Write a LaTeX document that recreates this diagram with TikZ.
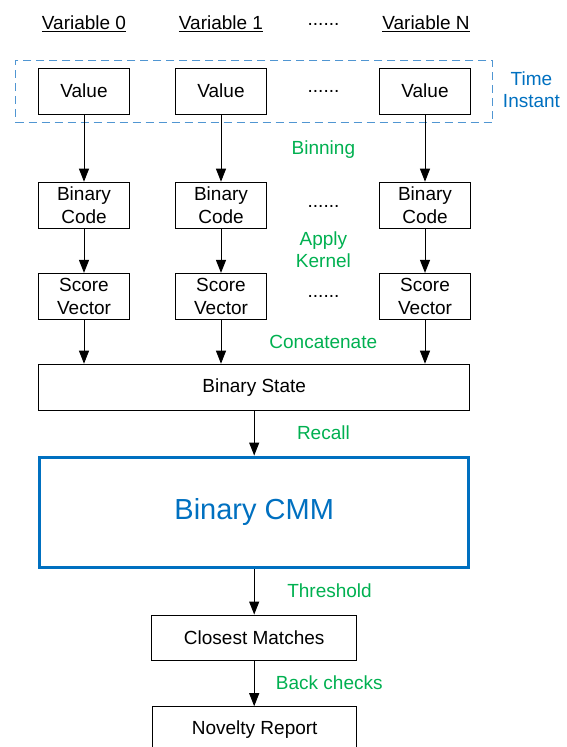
\documentclass[tikz,border=0pt]{standalone}
\usepackage{fontspec}
\setmainfont{Liberation Sans}
\usetikzlibrary{arrows.meta}
\definecolor{lblue}{RGB}{0,112,192}
\definecolor{dblue}{RGB}{80,150,210}
\definecolor{lgreen}{RGB}{0,176,80}
\begin{document}
\begin{tikzpicture}[x=1pt,y=-1pt,
  every node/.style={font=\fontsize{19}{22.5}\selectfont, inner sep=0pt, outer sep=0pt},
  box/.style={draw=black, line width=1pt, minimum width=91pt, minimum height=46pt, align=center, fill=white, outer sep=0.5pt},
  cmmbox/.style={draw=lblue, line width=3pt, minimum width=429pt, minimum height=110.5pt, text=lblue, font=\fontsize{29}{34}\selectfont, outer sep=1.5pt},
  dashbox/.style={draw=dblue, line width=1pt, dash pattern=on 8pt off 5pt, minimum width=477pt, minimum height=62.7pt},
  lab/.style={text=lgreen},
  tlab/.style={text=lblue, align=center},
  arr/.style={draw=black, line width=1pt, -{Triangle[length=13pt,width=10pt]}}
]
\useasboundingbox (0,0) rectangle (566,747);

% dashed time-instant frame
\node[dashbox] (ti) at (254.2,91.35) {};
\node[tlab] (tlabel) at (531.5,89.7) {Time\\Instant};

% headers
\node[anchor=base] (h0) at (84,29.3) {\underline{Variable 0}};
\node[anchor=base] (h1) at (221,29.3) {\underline{Variable 1}};
\node[anchor=base] (hd) at (323.5,25.5) {......};
\node[anchor=base] (hn) at (426,29.3) {\underline{Variable N}};

% value row
\node[box] (v0) at (84,91.2) {Value};
\node[box] (v1) at (221,91.2) {Value};
\node[anchor=base] (vd) at (323.5,92.5) {......};
\node[box] (vn) at (425,91.2) {Value};

% binary code row
\node[box] (c0) at (84,205.2) {Binary\\Code};
\node[box] (c1) at (221,205.2) {Binary\\Code};
\node[anchor=base] (cd) at (323.5,207) {......};
\node[box] (cn) at (425,205.2) {Binary\\Code};

% score vector row
\node[box] (s0) at (84,296.4) {Score\\Vector};
\node[box] (s1) at (221,296.4) {Score\\Vector};
\node[anchor=base] (sd) at (323.5,297) {......};
\node[box] (sn) at (425,296.4) {Score\\Vector};

% binary state
\node[box, minimum width=431.5pt] (bs) at (254.2,387.2) {Binary State};

% CMM
\node[cmmbox] (cmm) at (254.2,512.3) {Binary CMM};

% closest matches, novelty report
\node[box, minimum width=204.5pt, minimum height=45.7pt] (cm) at (254.2,637.9) {Closest Matches};
\node[box, minimum width=204pt] (nr) at (254.7,729.7) {Novelty Report};

% green labels
\node[lab, anchor=base] (lbin) at (323.4,154.3) {Binning};
\node[lab, align=center] (lker) at (323.4,249.7) {Apply\\Kernel};
\node[lab, anchor=base] (lcat) at (323.3,348.3) {Concatenate};
\node[lab, anchor=base] (lrec) at (323.4,439.3) {Recall};
\node[lab, anchor=base] (lthr) at (329.5,597.3) {Threshold};
\node[lab, anchor=base] (lbck) at (329.3,689) {Back checks};

% arrows
\foreach \c in {0,1,n}{
  \draw[arr] (v\c) -- (c\c);
  \draw[arr] (c\c) -- (s\c);
  \draw[arr] (s\c) -- (s\c |- bs.north);
}
\draw[arr] (bs) -- (bs |- cmm.north);
\draw[arr] (cmm.south -| cm.north) -- (cm);
\draw[arr] (cm) -- (cm |- nr.north);
\end{tikzpicture}
\end{document}
